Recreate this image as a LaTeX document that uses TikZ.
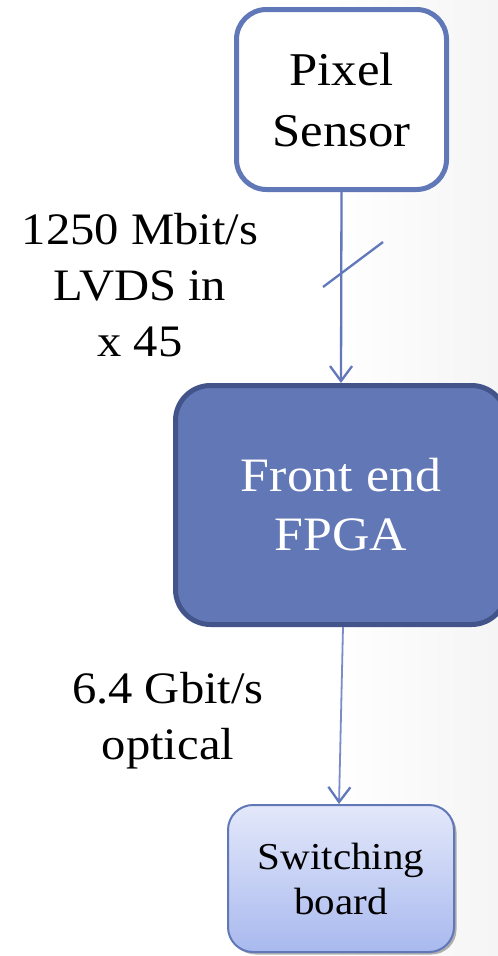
\documentclass[tikz,border=0pt]{standalone}
\usepackage{fontspec}
\setmainfont{Liberation Serif}[FakeStretch=1.08]
\usetikzlibrary{arrows.meta,shadows}
\definecolor{edgeblue}{HTML}{6178B8}
\definecolor{fpgafill}{HTML}{6277B5}
\definecolor{fpgaedge}{HTML}{43548A}
\definecolor{swtop}{HTML}{E3E8FA}
\definecolor{swbot}{HTML}{A9B9EE}
\definecolor{arrowblue}{HTML}{6179BA}
\definecolor{lightarrow}{HTML}{7A8DC8}
\tikzset{
  pixbox/.style={draw=edgeblue, line width=5pt, fill=white, rounded corners=30pt,
    minimum width=210pt, minimum height=180pt, inner sep=0pt, align=center,
    font=\fontsize{47}{61}\selectfont},
  fpgabox/.style={draw=fpgaedge, line width=5pt, fill=fpgafill, rounded corners=35pt,
    minimum width=331pt, minimum height=239pt, inner sep=0pt, align=center,
    text=white, font=\fontsize{48}{59}\selectfont},
  swbox/.style={draw=edgeblue, line width=2pt, top color=swtop, bottom color=swbot,
    rounded corners=25pt, minimum width=226pt, minimum height=147pt, inner sep=0pt,
    align=center, font=\fontsize{38}{45}\selectfont,
    drop shadow={shadow xshift=2.5pt, shadow yshift=-2.5pt, opacity=0.3, fill=black}},
  lbl/.style={align=center, inner sep=0pt, font=\fontsize{45}{56}\selectfont},
  conn/.style={draw=arrowblue, line width=2.3pt,
    -{Straight Barb[length=15pt, width=22pt, line width=2.3pt]}},
  thinconn/.style={draw=lightarrow, line width=1.8pt,
    -{Straight Barb[length=15pt, width=22pt, line width=2.3pt, color=arrowblue]}},
}
\begin{document}
\begin{tikzpicture}[x=1pt, y=-1pt]
\useasboundingbox (0,0) rectangle (498,956);
\fill[white] (0,0) rectangle (498,956);
\shade[left color=white, right color=black!4] (330,0) rectangle (498,956);

\node[pixbox] (pix) at (341.5,99.5) {Pixel\\Sensor};
\node[fpgabox] (fpga) at (341,505) {Front end\\FPGA};
\node[swbox] (sw) at (341,878.5) {Switching\\board};

\node[lbl] (l1) at (140,285) {1250 Mbit/s\\LVDS in\\x 45};
\node[lbl] (l2) at (168,721) {6.4 Gbit/s\\optical};

\draw[conn] (pix.south) -- (fpga.north);
\coordinate (s1) at (323,287);
\coordinate (s2) at (383,242);
\draw[arrowblue, line width=2.3pt] (s1) -- (s2);

\draw[thinconn] ([xshift=2pt]fpga.south) -- ([xshift=-2pt]sw.north);
\end{tikzpicture}
\end{document}
